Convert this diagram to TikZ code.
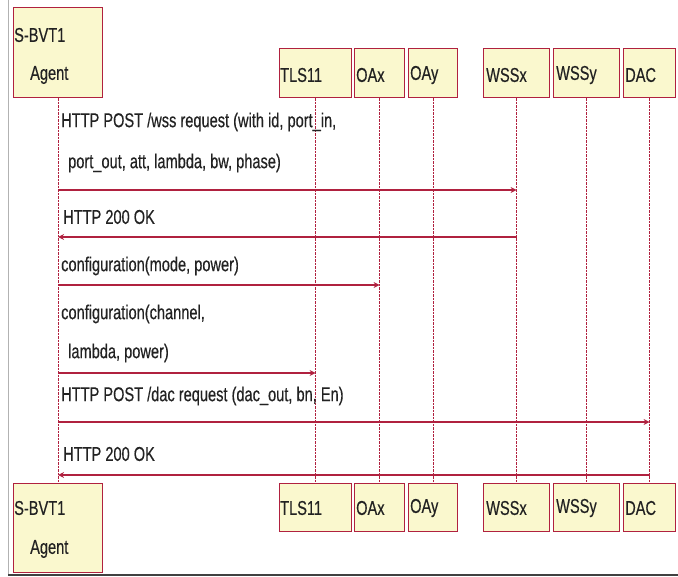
\documentclass[tikz,border=0pt]{standalone}
\usepackage{fontspec}
\setmainfont[FakeStretch=0.73, FakeBold=0.4]{Liberation Sans}
\usetikzlibrary{arrows.meta}
\definecolor{boxfill}{HTML}{FAF8CE}
\definecolor{wine}{HTML}{B0213F}
\definecolor{ink}{HTML}{222222}
\begin{document}
\begin{tikzpicture}[x=1pt, y=-1pt,
  font=\fontsize{20}{23}\selectfont,
  pbox/.style={draw=wine, line width=1.2pt, fill=boxfill, anchor=north west, inner sep=0pt},
  plabel/.style={anchor=west, inner sep=0pt, text=ink},
  life/.style={draw=wine, line width=0.8pt, dash pattern=on 2.5pt off 1pt},
  msg/.style={draw=wine, line width=1.4pt, -{Stealth[length=6pt, width=6pt]}},
  mlabel/.style={anchor=west, inner sep=0pt, text=ink}]
\useasboundingbox (0,0) rectangle (678,577);

% frame
\draw[gray!60, line width=1pt] (8,0) -- (8,575);
\draw[black!75, line width=1.2pt] (8,575) -- (678,575);

% participants, top row
\node[pbox, minimum width=89pt, minimum height=90pt] (agT)  at (13,7)   {};
\node[pbox, minimum width=72pt, minimum height=49pt] (tlsT) at (279,48) {};
\node[pbox, minimum width=50pt, minimum height=49pt] (oaxT) at (354,48) {};
\node[pbox, minimum width=49pt, minimum height=49pt] (oayT) at (408,48) {};
\node[pbox, minimum width=66pt, minimum height=49pt] (wsxT) at (483,48) {};
\node[pbox, minimum width=66pt, minimum height=49pt] (wsyT) at (553,48) {};
\node[pbox, minimum width=52pt, minimum height=49pt] (dacT) at (623,48) {};

% participants, bottom row
\node[pbox, minimum width=89pt, minimum height=89pt] (agB)  at (13,483)  {};
\node[pbox, minimum width=72pt, minimum height=48pt] (tlsB) at (279,483) {};
\node[pbox, minimum width=50pt, minimum height=48pt] (oaxB) at (354,483) {};
\node[pbox, minimum width=49pt, minimum height=48pt] (oayB) at (408,483) {};
\node[pbox, minimum width=66pt, minimum height=48pt] (wsxB) at (483,483) {};
\node[pbox, minimum width=66pt, minimum height=48pt] (wsyB) at (553,483) {};
\node[pbox, minimum width=52pt, minimum height=48pt] (dacB) at (623,483) {};

% participant names
\node[plabel] (agTa) at (14,35) {S-BVT1};
\node[plabel] (agTb) at (30,75) {Agent};
\node[plabel] (tlsTl) at (280,75) {TLS11};
\node[plabel] (oaxTl) at (356,75) {OAx};
\node[plabel] (oayTl) at (410,75) {OAy};
\node[plabel] (wsxTl) at (486,75) {WSSx};
\node[plabel] (wsyTl) at (556,75) {WSSy};
\node[plabel] (dacTl) at (625,75) {DAC};

\node[plabel] (agBa) at (14,508) {S-BVT1};
\node[plabel] (agBb) at (30,549) {Agent};
\node[plabel] (tlsBl) at (280,508) {TLS11};
\node[plabel] (oaxBl) at (356,508) {OAx};
\node[plabel] (oayBl) at (410,508) {OAy};
\node[plabel] (wsxBl) at (486,508) {WSSx};
\node[plabel] (wsyBl) at (556,508) {WSSy};
\node[plabel] (dacBl) at (625,508) {DAC};

% lifelines
\draw[life] (agT.south)  -- (agB.north);
\draw[life] (tlsT.south) -- (tlsB.north);
\draw[life] (oaxT.south) -- (oaxB.north);
\draw[life] (oayT.south) -- (oayB.north);
\draw[life] (wsxT.south) -- (wsxB.north);
\draw[life] (wsyT.south) -- (wsyB.north);
\draw[life] (dacT.south) -- (dacB.north);

% message rows
\coordinate (r1) at (0,190);
\coordinate (r2) at (0,237);
\coordinate (r3) at (0,285);
\coordinate (r4) at (0,373);
\coordinate (r5) at (0,422);
\coordinate (r6) at (0,475);

\draw[msg] (agT |- r1) -- (wsxT |- r1);
\draw[msg] (wsxT |- r2) -- (agT |- r2);
\draw[msg] (agT |- r3) -- (oaxT |- r3);
\draw[msg] (agT |- r4) -- (tlsT |- r4);
\draw[msg] (agT |- r5) -- (dacT |- r5);
\draw[msg] (dacT |- r6) -- (agT |- r6);

% message labels
\node[mlabel] (m1a) at (61,122) {HTTP POST /wss request (with id, port\_in,};
\node[mlabel] (m1b) at (68,163) {port\_out, att, lambda, bw, phase)};
\node[mlabel] (m2)  at (63,217) {HTTP 200 OK};
\node[mlabel] (m3)  at (61,266) {configuration(mode, power)};
\node[mlabel] (m4a) at (61,314) {configuration(channel,};
\node[mlabel] (m4b) at (68,353) {lambda, power)};
\node[mlabel] (m5)  at (61,396) {HTTP POST /dac request (dac\_out, bn, En)};
\node[mlabel] (m6)  at (63,454) {HTTP 200 OK};
\end{tikzpicture}
\end{document}
